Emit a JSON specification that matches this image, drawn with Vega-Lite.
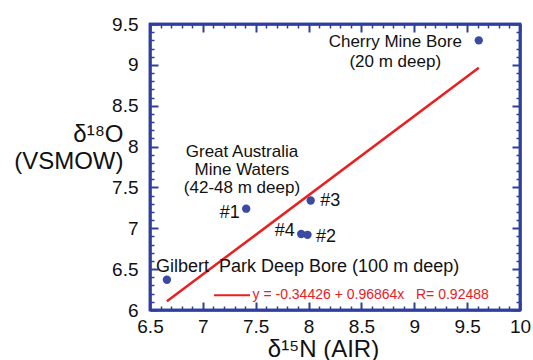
{
  "$schema": "https://vega.github.io/schema/vega-lite/v6.json",
  "width": 370,
  "height": 286,
  "autosize": {"type": "none"},
  "padding": {"left": 150, "top": 24, "right": 13, "bottom": 50},
  "background": "white",
  "config": {
    "view": {"stroke": "#2f3f9e", "strokeWidth": 2.5},
    "font": "Liberation Sans",
    "text": {"font": "Liberation Sans"}
  },
  "datasets": {
    "points": [
      {"site": "Cherry Mine Bore", "n15": 9.61, "o18": 9.30},
      {"site": "#1", "n15": 7.41, "o18": 7.24},
      {"site": "#2", "n15": 7.99, "o18": 6.92},
      {"site": "#3", "n15": 8.02, "o18": 7.34},
      {"site": "#4", "n15": 7.93, "o18": 6.93},
      {"site": "Gilbert Park Deep Bore", "n15": 6.66, "o18": 6.37}
    ],
    "fit": [
      {"n15": 6.66, "o18": 6.107},
      {"n15": 9.61, "o18": 8.964}
    ],
    "legendLine": [
      {"n15": 7.105, "o18": 6.18},
      {"n15": 7.446, "o18": 6.18}
    ],
    "legendText": [
      {"n15": 7.47, "o18": 6.18, "label": "y = -0.34426 + 0.96864x \u00a0 R= 0.92488"}
    ],
    "labelsCenter": [
      {"n15": 8.82, "o18": 9.28, "label": "Cherry Mine Bore"},
      {"n15": 8.82, "o18": 9.04, "label": "(20 m deep)"},
      {"n15": 7.37, "o18": 7.93, "label": "Great Australia"},
      {"n15": 7.37, "o18": 7.71, "label": "Mine Waters"},
      {"n15": 7.37, "o18": 7.49, "label": "(42-48 m deep)"}
    ],
    "labelsLeft": [
      {"n15": 6.557, "o18": 6.53, "label": "Gilbert\u00a0 Park Deep Bore (100 m deep)"},
      {"n15": 8.11, "o18": 7.34, "label": "#3"},
      {"n15": 8.07, "o18": 6.89, "label": "#2"}
    ],
    "labelsRight": [
      {"n15": 7.35, "o18": 7.19, "label": "#1"},
      {"n15": 7.87, "o18": 6.97, "label": "#4"}
    ]
  },
  "layer": [
    {
      "data": {"name": "fit"},
      "mark": {"type": "line", "color": "#e8201f", "strokeWidth": 2.5},
      "encoding": {
        "x": {
          "field": "n15", "type": "quantitative",
          "scale": {"domain": [6.5, 10], "nice": false, "zero": false},
          "axis": {
            "orient": "bottom",
            "zindex": 2,
            "values": [6.5,7,7.5,8,8.5,9,9.5,10],
            "format": "~g",
            "labelOverlap": false,
            "labelFlush": false,
            "labelFont": "Liberation Sans",
            "labelFontSize": 19,
            "labelColor": "#111111",
            "labelPadding": 15,
            "grid": false,
            "domain": true,
            "domainColor": "#2f3f9e",
            "domainWidth": 2.5,
            "ticks": true,
            "tickColor": "#2f3f9e",
            "tickWidth": 2,
            "tickSize": -8,
            "title": "δ¹⁵N (AIR)",
            "titleFont": "Liberation Sans",
            "titleFontSize": 24,
            "titleFontWeight": "normal",
            "titleColor": "#111111",
            "titleAnchor": "start",
            "titleAlign": "center",
            "titleX": 173,
            "titleY": 46,
            "titleBaseline": "alphabetic"
          }
        },
        "y": {
          "field": "o18", "type": "quantitative",
          "scale": {"domain": [6, 9.5], "nice": false, "zero": false},
          "axis": {
            "orient": "left",
            "zindex": 2,
            "values": [6,6.5,7,7.5,8,8.5,9,9.5],
            "format": "~g",
            "labelOverlap": false,
            "labelFlush": false,
            "labelFont": "Liberation Sans",
            "labelFontSize": 19,
            "labelColor": "#111111",
            "labelPadding": 20,
            "grid": false,
            "domain": true,
            "domainColor": "#2f3f9e",
            "domainWidth": 2.5,
            "ticks": true,
            "tickColor": "#2f3f9e",
            "tickWidth": 2,
            "tickSize": -8,
            "title": ["δ¹⁸O", "(VSMOW)"],
            "titleFont": "Liberation Sans",
            "titleFontSize": 24,
            "titleFontWeight": "normal",
            "titleColor": "#111111",
            "titleAngle": 0,
            "titleAlign": "right",
            "titleAnchor": "start",
            "titleX": -27,
            "titleY": 117,
            "titleBaseline": "alphabetic",
            "titleLineHeight": 27
          }
        }
      }
    },
    {
      "data": {"name": "points"},
      "mark": {"type": "circle", "size": 70, "opacity": 1, "color": "#3b4aa3"},
      "encoding": {
        "x": {
          "field": "n15", "type": "quantitative",
          "scale": {"domain": [6.5, 10], "nice": false, "zero": false},
          "axis": {
            "orient": "top",
            "zindex": 2,
            "values": [6.5,7,7.5,8,8.5,9,9.5,10],
            "labels": false,
            "title": null,
            "grid": false,
            "domain": true,
            "domainColor": "#2f3f9e",
            "domainWidth": 2.5,
            "ticks": true,
            "tickColor": "#2f3f9e",
            "tickWidth": 2,
            "tickSize": -8
          }
        },
        "y": {
          "field": "o18", "type": "quantitative",
          "scale": {"domain": [6, 9.5], "nice": false, "zero": false},
          "axis": {
            "orient": "right",
            "zindex": 2,
            "values": [6,6.5,7,7.5,8,8.5,9,9.5],
            "labels": false,
            "title": null,
            "grid": false,
            "domain": true,
            "domainColor": "#2f3f9e",
            "domainWidth": 2.5,
            "ticks": true,
            "tickColor": "#2f3f9e",
            "tickWidth": 2,
            "tickSize": -8
          }
        }
      }
    },
    {
      "data": {"name": "legendLine"},
      "mark": {"type": "line", "color": "#e8201f", "strokeWidth": 2},
      "encoding": {
        "x": {
          "field": "n15", "type": "quantitative",
          "axis": {
            "orient": "bottom",
            "zindex": 2,
            "values": [6.6,6.7,6.8,6.9,7.1,7.2,7.3,7.4,7.6,7.7,7.8,7.9,8.1,8.2,8.3,8.4,8.6,8.7,8.8,8.9,9.1,9.2,9.3,9.4,9.6,9.7,9.8,9.9],
            "labels": false,
            "title": null,
            "grid": false,
            "domain": false,
            "ticks": true,
            "tickColor": "#2f3f9e",
            "tickWidth": 1.5,
            "tickSize": -4
          }
        },
        "y": {
          "field": "o18", "type": "quantitative",
          "axis": {
            "orient": "left",
            "zindex": 2,
            "values": [6.1,6.2,6.3,6.4,6.6,6.7,6.8,6.9,7.1,7.2,7.3,7.4,7.6,7.7,7.8,7.9,8.1,8.2,8.3,8.4,8.6,8.7,8.8,8.9,9.1,9.2,9.3,9.4],
            "labels": false,
            "title": null,
            "grid": false,
            "domain": false,
            "ticks": true,
            "tickColor": "#2f3f9e",
            "tickWidth": 1.5,
            "tickSize": -4
          }
        }
      }
    },
    {
      "data": {"name": "legendText"},
      "mark": {"type": "text", "align": "left", "baseline": "middle", "fontSize": 14, "color": "#e8201f", "font": "Liberation Sans"},
      "encoding": {
        "x": {
          "field": "n15", "type": "quantitative",
          "axis": {
            "orient": "top",
            "zindex": 2,
            "values": [6.6,6.7,6.8,6.9,7.1,7.2,7.3,7.4,7.6,7.7,7.8,7.9,8.1,8.2,8.3,8.4,8.6,8.7,8.8,8.9,9.1,9.2,9.3,9.4,9.6,9.7,9.8,9.9],
            "labels": false,
            "title": null,
            "grid": false,
            "domain": false,
            "ticks": true,
            "tickColor": "#2f3f9e",
            "tickWidth": 1.5,
            "tickSize": -4
          }
        },
        "y": {
          "field": "o18", "type": "quantitative",
          "axis": {
            "orient": "right",
            "zindex": 2,
            "values": [6.1,6.2,6.3,6.4,6.6,6.7,6.8,6.9,7.1,7.2,7.3,7.4,7.6,7.7,7.8,7.9,8.1,8.2,8.3,8.4,8.6,8.7,8.8,8.9,9.1,9.2,9.3,9.4],
            "labels": false,
            "title": null,
            "grid": false,
            "domain": false,
            "ticks": true,
            "tickColor": "#2f3f9e",
            "tickWidth": 1.5,
            "tickSize": -4
          }
        },
        "text": {"field": "label"}
      }
    },
    {
      "data": {"name": "labelsCenter"},
      "mark": {"type": "text", "align": "center", "baseline": "middle", "fontSize": 17, "color": "#111111", "font": "Liberation Sans"},
      "encoding": {
        "x": {"field": "n15", "type": "quantitative", "axis": null},
        "y": {"field": "o18", "type": "quantitative", "axis": null},
        "text": {"field": "label"}
      }
    },
    {
      "data": {"name": "labelsLeft"},
      "mark": {"type": "text", "align": "left", "baseline": "middle", "fontSize": 18, "color": "#111111", "font": "Liberation Sans"},
      "encoding": {
        "x": {"field": "n15", "type": "quantitative", "axis": null},
        "y": {"field": "o18", "type": "quantitative", "axis": null},
        "text": {"field": "label"}
      }
    },
    {
      "data": {"name": "labelsRight"},
      "mark": {"type": "text", "align": "right", "baseline": "middle", "fontSize": 18, "color": "#111111", "font": "Liberation Sans"},
      "encoding": {
        "x": {"field": "n15", "type": "quantitative", "axis": null},
        "y": {"field": "o18", "type": "quantitative", "axis": null},
        "text": {"field": "label"}
      }
    },
    {
      "data": {"values": [{}]},
      "mark": {"type": "rect", "fill": null, "fillOpacity": 0, "stroke": "#2f3f9e", "strokeWidth": 2.5, "clip": false},
      "encoding": {
        "x": {"datum": 6.5, "type": "quantitative", "axis": null},
        "x2": {"datum": 10},
        "y": {"datum": 6, "type": "quantitative", "axis": null},
        "y2": {"datum": 9.5}
      }
    }
  ],
  "resolve": {"axis": {"x": "independent", "y": "independent"}}
}
